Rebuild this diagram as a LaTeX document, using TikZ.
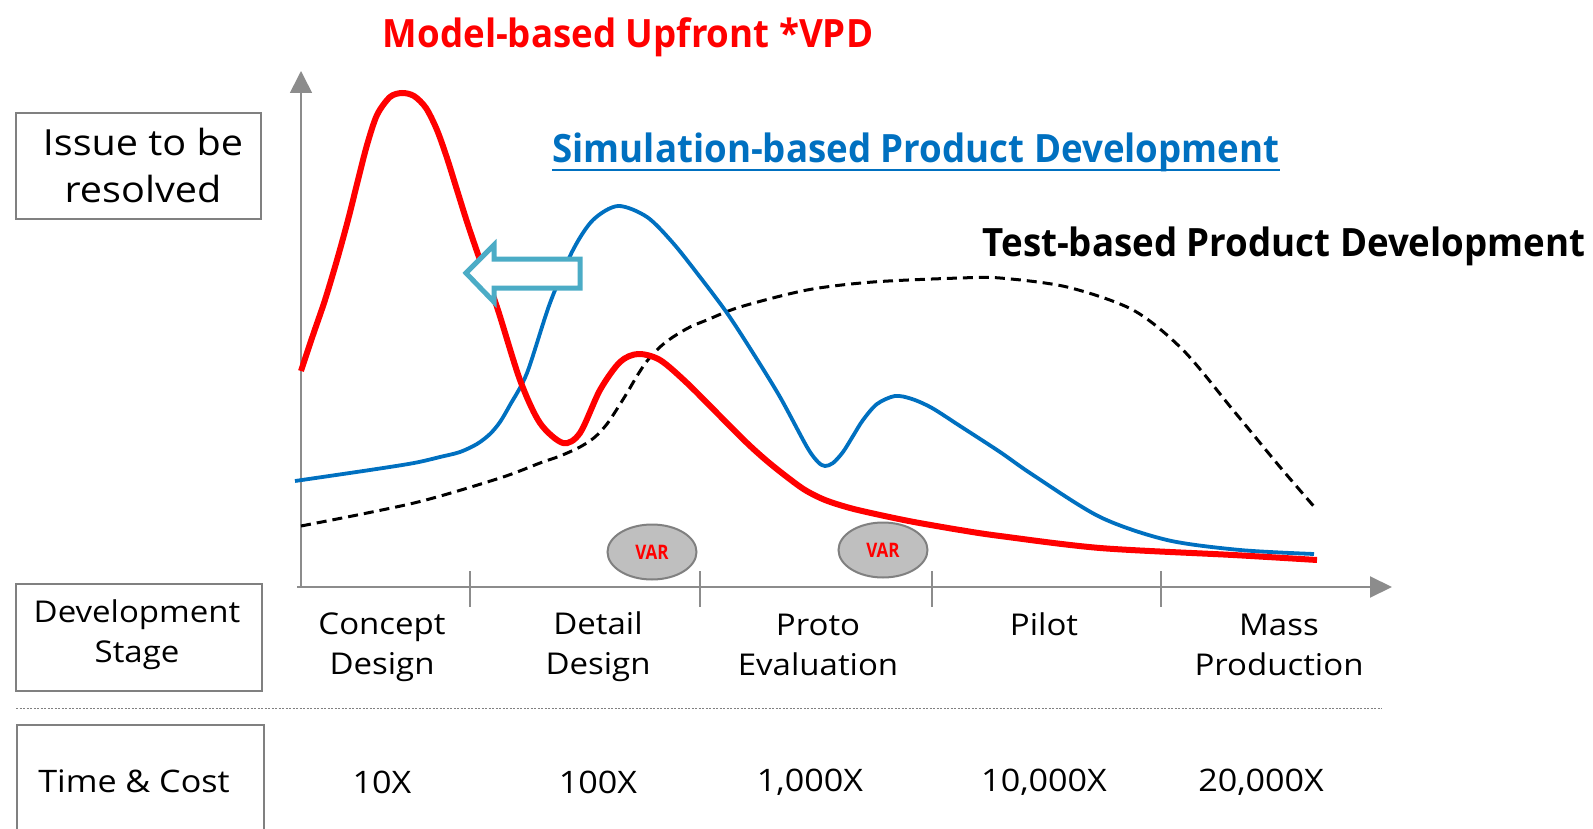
\documentclass[tikz,border=0pt]{standalone}
\usepackage{fontspec}
\setmainfont[FakeStretch=1.1]{Open Sans}
\newfontfamily\headfont[FakeStretch=0.94]{Open Sans}
\newfontfamily\varfont[FakeStretch=0.85]{Open Sans}
\usetikzlibrary{arrows.meta,shapes.geometric}
\definecolor{cred}{RGB}{255,0,0}
\definecolor{cblue}{RGB}{0,112,192}
\definecolor{cteal}{RGB}{75,172,198}
\definecolor{cgray}{RGB}{140,140,140}
\definecolor{cbox}{RGB}{128,128,128}
\definecolor{cvar}{RGB}{191,191,191}
\tikzset{
  labelbox/.style={draw=cbox, line width=1.5pt, inner sep=0pt},
  plain/.style={font=\fontsize{30}{40}\selectfont, align=center, inner sep=0pt, text=black},
  costlbl/.style={plain, font=\fontsize{31}{40}\selectfont},
  title/.style={font=\headfont\bfseries\fontsize{39}{44}\selectfont, inner sep=0pt, anchor=base},
  axisline/.style={draw=cgray, line width=2pt},
  tickline/.style={draw=cgray, line width=1.5pt},
  redcurve/.style={draw=cred, line width=6pt},
  bluecurve/.style={draw=cblue, line width=3.8pt},
  testcurve/.style={draw=black, line width=3pt, dash pattern=on 10pt off 6pt},
  varbubble/.style={ellipse, draw=cbox, fill=cvar, line width=2pt, minimum width=89pt, minimum height=55pt, inner sep=0pt, text=cred, font=\varfont\bfseries\fontsize{20}{20}\selectfont},
}
\begin{document}
\begin{tikzpicture}[x=1pt,y=-1pt]
\useasboundingbox (0,0) rectangle (1593,829);
% titles
\node[title, text=cred] (mtitle) at (628,48) {Model-based Upfront *VPD};
\node[title, text=cblue] (stitle) at (916,163) {Simulation-based Product Development};
\draw[cblue, line width=2pt] ([yshift=-7pt]stitle.base west) -- ([yshift=-7pt]stitle.base east);
\node[title, text=black] (ttitle) at (1284,257) {Test-based Product Development};
% left boxes
\node[labelbox, minimum width=245pt, minimum height=106pt] (issuebox) at (138.5,166) {};
\node[plain, font=\fontsize{36}{47}\selectfont] (issuetxt) at (143,166) {Issue to be\\resolved};
\node[labelbox, minimum width=246pt, minimum height=107pt] (devbox) at (139,637.5) {};
\node[plain] (devtxt) at (137,635) {Development\\Stage};
\node[labelbox, minimum width=247pt, minimum height=140pt] (timebox) at (140.5,795) {};
\node[costlbl] (timetxt) at (134,781) {Time \& Cost};
% separator
\coordinate (sepL) at (16,708);
\coordinate (sepR) at (1382,708);
\draw[cbox, line width=1pt, dash pattern=on 2pt off 1.5pt] (sepL) -- (sepR);
% axes
\coordinate (orig) at (301,587);
\coordinate (ytip) at (301,71);
\coordinate (xstart) at (297,587);
\coordinate (xtip) at (1392,587);
\draw[axisline, line width=1.6pt, -{Triangle[length=22pt,width=22pt]}, cgray] (orig) -- (ytip);
\draw[axisline, -{Triangle[length=22pt,width=21pt]}, cgray] (xstart) -- (xtip);
\foreach \tx [count=\i] in {470,700,932,1161}{
  \coordinate (tt\i) at (\tx,571);
  \coordinate (tb\i) at (\tx,607);
  \draw[tickline] (tt\i) -- (tb\i);
}
% stage labels
\node[plain] (s1) at (382,647) {Concept\\Design};
\node[plain] (s2) at (598,647) {Detail\\Design};
\node[plain] (s3) at (818,645) {Proto\\Evaluation};
\node[plain] (s4) at (1044,624) {Pilot};
\node[plain] (s5) at (1279,645) {Mass\\Production};
% cost labels
\node[costlbl] (c1) at (382,782) {10X};
\node[costlbl] (c2) at (598,782) {100X};
\node[costlbl] (c3) at (810,782) {1,000X};
\node[costlbl] (c4) at (1044,782) {10,000X};
\node[costlbl] (c5) at (1261,782) {20,000X};
% test-based dashed curve
\draw[testcurve] plot[smooth, tension=0.5] coordinates {(301,526) (414,503) (500,478) (540,463) (560,456) (580,447) (595,437) (607,424) (617,409) (627,393) (637,376) (647,361) (660,347) (673,337) (690,327) (707,320) (740,307) (807,290) (873,282) (960,278) (1000,278) (1067,287) (1133,310) (1183,350) (1233,410) (1280,467) (1317,510)};
% blue simulation curve
\draw[bluecurve] plot[smooth, tension=0.5] coordinates {(295,481) (370,470) (414,463) (440,457) (460,452) (477,444) (490,434) (500,422) (510,405) (527,373) (550,303) (573,250) (593,220) (618,206) (647,217) (673,243) (700,277) (727,313) (753,353) (780,397) (807,447) (818,462) (825,466) (833,463) (843,452) (853,436) (863,420) (877,404) (895,396) (912,399) (932,408) (960,426) (1000,452) (1033,475) (1100,517) (1167,540) (1240,550) (1314,554)};
% red model curve
\draw[redcurve] plot[smooth, tension=0.5] coordinates {(301,371) (313,335) (325,300) (337,260) (348,220) (358,180) (367,145) (377,115) (390,97) (402,93) (414,96) (426,108) (437,130) (447,158) (457,190) (468,225) (480,260) (497,307) (520,380) (540,423) (563,443) (580,433) (600,390) (620,362) (638,354) (660,360) (687,383) (717,413) (747,443) (767,461) (787,477) (805,490) (825,500) (850,508) (880,515) (914,522) (960,530) (1000,536) (1100,548) (1233,555) (1317,560)};
% hollow arrow
\draw[cteal, line width=5pt, line join=miter, fill=white] (580,259) -- (494,259) -- (494,245) -- (466,273) -- (494,302) -- (494,288) -- (580,288) -- cycle;
% VAR bubbles
\node[varbubble] (var1) at (652,552) {VAR};
\node[varbubble] (var2) at (883,550) {VAR};
\end{tikzpicture}
\end{document}
